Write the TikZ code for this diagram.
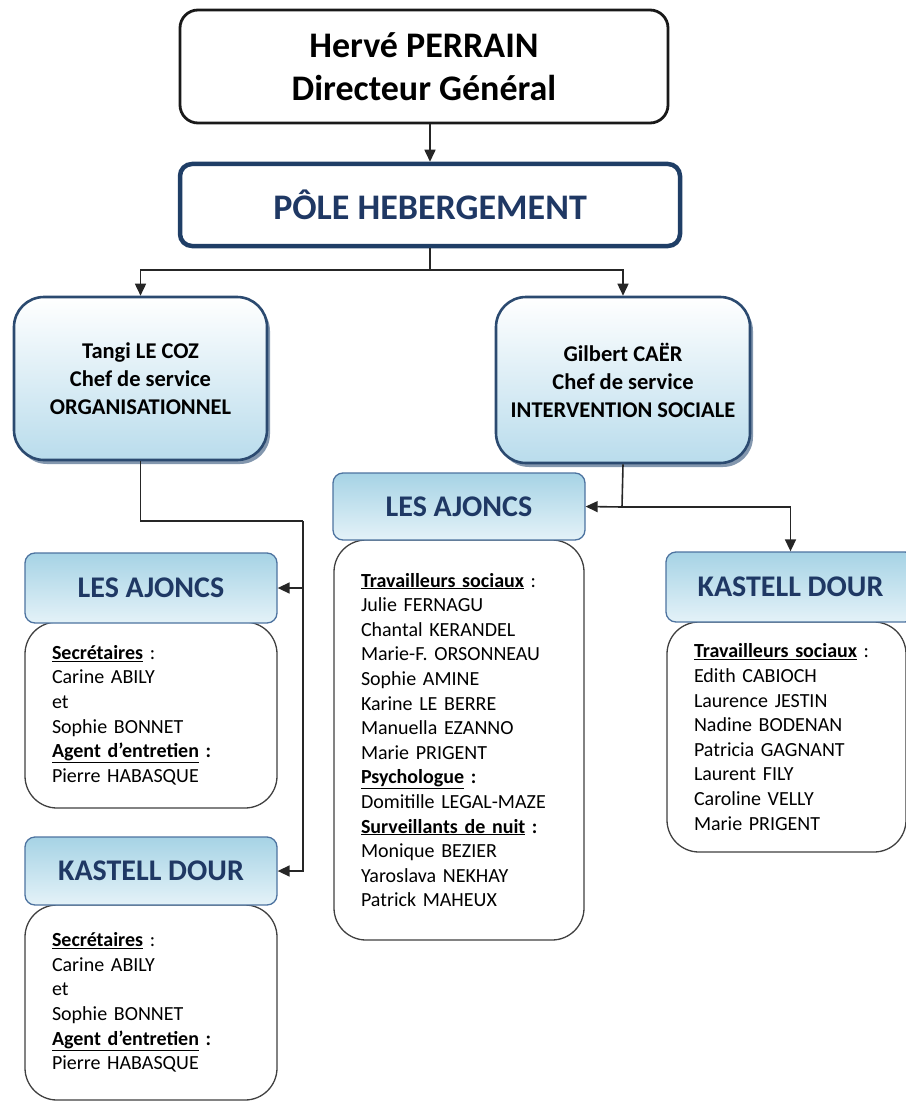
\documentclass[tikz,border=0pt]{standalone}
\usepackage{fontspec}
\setmainfont{Carlito}
\usetikzlibrary{positioning, arrows.meta, shadows}
\definecolor{poleblue}{HTML}{1F3E66}
\definecolor{chefline}{HTML}{2B4A70}
\definecolor{cheffill}{HTML}{B9DCEC}
\definecolor{hdrtop}{HTML}{A6D3E5}
\definecolor{hdrbot}{HTML}{E4F2F8}
\definecolor{hdrline}{HTML}{4D73A0}
\definecolor{hdrtext}{HTML}{1F3864}
\definecolor{chefshadow}{HTML}{8397AE}
\tikzset{
	>={Triangle[length=12pt,width=11pt]},
	link/.style={line width=1.6pt, draw=black!85},
	dgbox/.style={draw=black!90, line width=2.8pt, rounded corners=18pt, fill=white, align=center, font=\fontsize{36}{43}\selectfont\bfseries, minimum width=488pt, minimum height=113pt},
	polebox/.style={draw=poleblue, line width=4.5pt, rounded corners=12pt, fill=white, text=hdrtext, font=\fontsize{36}{43}\selectfont\bfseries, minimum width=500pt, minimum height=82pt},
	chefbox/.style={draw=chefline, line width=2.6pt, rounded corners=30pt, top color=white, bottom color=cheffill, align=center, font=\fontsize{22.5}{28}\selectfont\bfseries, drop shadow={shadow xshift=3pt, shadow yshift=-4pt, fill=chefshadow, opacity=1}},
	sitebox/.style={draw=hdrline, line width=1.3pt, rounded corners=10pt, top color=hdrtop, bottom color=hdrbot, text=hdrtext, font=\fontsize{30}{36}\selectfont\bfseries},
	staffbox/.style={draw=black!75, line width=1.3pt, rounded corners=32pt, fill=white, align=left, inner xsep=27pt, font=\fontsize{20}{24.6}\selectfont},
}

\begin{document}
\begin{tikzpicture}[x=1pt, y=-1pt]
	\useasboundingbox (0,0) rectangle (905,1102);
	
	\node [dgbox] (DG) at (424,66.5) {Hervé PERRAIN\\Directeur Général};
	\node [polebox] (POLE) at (430,205) {PÔLE HEBERGEMENT};
	\node [chefbox, minimum width=253pt, minimum height=163pt] (CHEForga) at (140.5,378.5) {Tangi LE COZ\\Chef de service\\ORGANISATIONNEL};
	\node [chefbox, minimum width=254pt, minimum height=166pt] (CHEFsocial) at (623,380) {Gilbert CAËR\\Chef de service\\INTERVENTION SOCIALE};
	
	% service organisationnel
	\node [staffbox, text width=198pt, minimum height=186pt] (STAFFajoncsL) at (151,715) {\underline{\textbf{Secrétaires}} :\\Carine ABILY\\et\\Sophie BONNET\\\underline{\textbf{Agent d’entretien}} \textbf{:}\\Pierre HABASQUE};
	\node [sitebox, minimum width=252pt, minimum height=70pt] (AJONCSleft) at (151,588) {LES AJONCS};
	\node [staffbox, text width=198pt, minimum height=195pt] (STAFFkastellL) at (151,1002.5) {\underline{\textbf{Secrétaires}} :\\Carine ABILY\\et\\Sophie BONNET\\\underline{\textbf{Agent d’entretien}} \textbf{:}\\Pierre HABASQUE};
	\node [sitebox, minimum width=252pt, minimum height=68pt] (KASTELLleft) at (151,871) {KASTELL DOUR};
	
	% intervention sociale
	\node [staffbox, text width=196pt, minimum height=400pt] (STAFFajoncsM) at (459,740) {\underline{\textbf{Travailleurs sociaux}} :\\Julie FERNAGU\\Chantal KERANDEL\\Marie-F. ORSONNEAU\\Sophie AMINE\\Karine LE BERRE\\Manuella EZANNO\\Marie PRIGENT\\\underline{\textbf{Psychologue}} \textbf{:}\\Domitille LEGAL-MAZE\\\underline{\textbf{Surveillants de nuit}} \textbf{:}\\Monique BEZIER\\Yaroslava NEKHAY\\Patrick MAHEUX};
	\node [sitebox, minimum width=252pt, minimum height=67pt] (AJONCSmid) at (459,506.5) {LES AJONCS};
	\node [staffbox, text width=185pt, minimum height=230pt] (STAFFkastellR) at (786.5,737) {\underline{\textbf{Travailleurs sociaux}} :\\Edith CABIOCH\\Laurence JESTIN\\Nadine BODENAN\\Patricia GAGNANT\\Laurent FILY\\Caroline VELLY\\Marie PRIGENT};
	\node [sitebox, minimum width=249pt, minimum height=70pt] (KASTELLright) at (790.5,587) {KASTELL DOUR};
	
	\coordinate (POLEsplit) at (430,270);
	\coordinate (ORGAturn) at (303,521);
	\coordinate (SOCIALturn) at (622,507);
	
	\draw [link, ->] (POLE.north |- DG.south) -- (POLE.north);
	\draw [link, ->] (POLE.south) -- (POLEsplit) -| (CHEForga.north);
	\draw [link, ->] (POLEsplit) -| (CHEFsocial.north);
	\draw [link] (CHEForga.south) |- (ORGAturn);
	\draw [link, ->] (ORGAturn) |- (KASTELLleft.east);
	\draw [link, ->] (ORGAturn |- AJONCSleft.east) -- (AJONCSleft.east);
	\draw [link] (CHEFsocial.south) -- (SOCIALturn);
	\draw [link, ->] (SOCIALturn) -- (AJONCSmid.east);
	\draw [link, ->] (SOCIALturn) -| (KASTELLright.north);
	
\end{tikzpicture}
\end{document}
